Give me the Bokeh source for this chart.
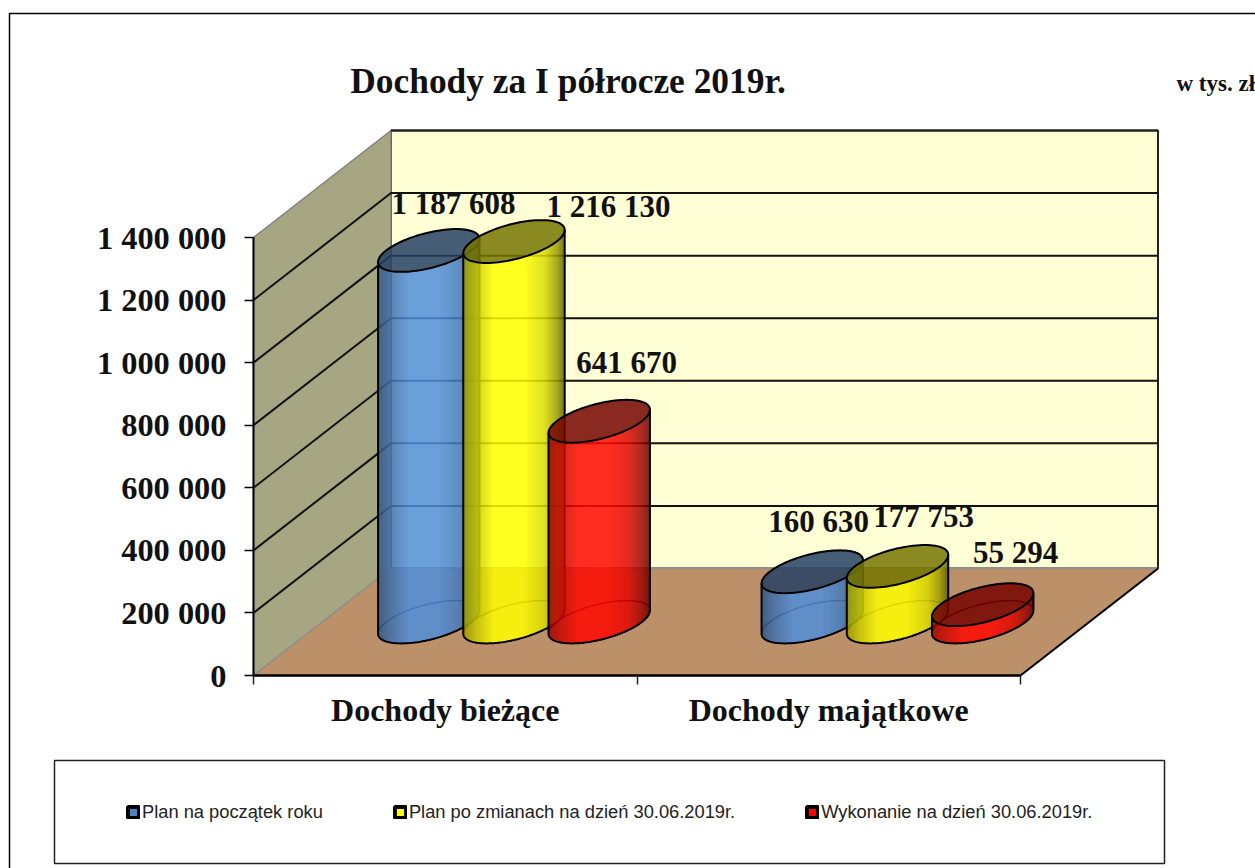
import math
from bokeh.plotting import figure
from bokeh.models import FixedTicker, Legend, LegendItem, Label, BoxAnnotation
from bokeh.embed import file_html
from bokeh.resources import INLINE
from bokeh.core.properties import value

# ---- data ----
CATEGORIES = ["Dochody bieżące", "Dochody majątkowe"]
SERIES = ["Plan na początek roku", "Plan po zmianach na dzień 30.06.2019r.", "Wykonanie na dzień 30.06.2019r."]
PLAN_START = [1187608, 160630]
PLAN_CHANGED = [1216130, 177753]
EXECUTED = [641670, 55294]
Y_TICKS = [0, 200000, 400000, 600000, 800000, 1000000, 1200000, 1400000]
TITLE = "Dochody za I półrocze 2019r."
UNIT = "w tys. zł"

# ---- layout (page pixels; bokeh's page template has margin 0) ----
W, H = 1255, 868
PAGE_X0, PAGE_Y0 = 253, 675      # chart origin
PX_PER_CAT = 383.5
PX_PER_VAL = 438.0 / 1400000
DEPTH_PX_X, DEPTH_PX_Y = 137.5, 107.0
def X(px): return (px - PAGE_X0) / PX_PER_CAT
def Y(py): return (PAGE_Y0 - py) / PX_PER_VAL
DX = DEPTH_PX_X / PX_PER_CAT
DY = DEPTH_PX_Y / PX_PER_VAL
VMAX = Y_TICKS[-1]
def pr(c, v, d): return c + d * DX, v + d * DY

p = figure(width=W, height=H, output_backend="svg", toolbar_location=None,
           x_range=(X(0), X(W)), y_range=(Y(H), Y(0)), min_border=0,
           tools="", outline_line_color=None, background_fill_color="white")
p.grid.visible = False

# outer chart-area border (open at right and bottom: page cuts it)
p.line([X(9), X(9), X(W)], [Y(H), Y(13), Y(13)], line_color="black", line_width=1.5)

# ---- walls ----
NC = len(CATEGORIES)
wx = [pr(0, 0, 1)[0], pr(NC, 0, 1)[0], pr(NC, VMAX, 1)[0], pr(0, VMAX, 1)[0]]
wy = [pr(0, 0, 1)[1], pr(NC, 0, 1)[1], pr(NC, VMAX, 1)[1], pr(0, VMAX, 1)[1]]
p.patch(wx, wy, fill_color="#FFFFD6", line_color="#202020", line_width=2)
p.patch([0, 0, DX, DX], [0, VMAX, VMAX + DY, DY], fill_color="#A6A682", line_color="#808080", line_width=1.5)
p.patch([0, NC, NC + DX, DX], [0, 0, DY, DY], fill_color="#BC9069", line_color="#8F8F8F", line_width=1.5)
p.line([NC, NC + DX], [0, DY], line_color="black", line_width=2)
for v in Y_TICKS[1:-1]:
    p.line([0, DX, NC + DX], [v, v + DY, v + DY], line_color="#111111", line_width=2)
p.line([DX, NC + DX], [VMAX + DY, VMAX + DY], line_color="#202020", line_width=2)

# ---- cylinders ----
COLORS = [(80, 142, 218), (255, 255, 0), (255, 8, 0)]
ALPHA = 0.85
TOP_SHADE = 0.46
BAR_W = 2.0 / 9.0
CENTERS = [0.5 - BAR_W, 0.5, 0.5 + BAR_W]
RD = 0.2
PROFILE = [(0.0, .60), (.12, .78), (.30, 1.0), (.60, 1.0), (.80, .86), (.92, .62), (1.0, .36)]

def shade(u):
    for (a, fa), (b, fb) in zip(PROFILE, PROFILE[1:]):
        if u <= b:
            return fa + (fb - fa) * (u - a) / (b - a)
    return PROFILE[-1][1]

def hexc(c, f):
    return "#%02x%02x%02x" % tuple(int(max(0, min(255, x * f))) for x in c)

RX = BAR_W / 2
AX = RD * DX
BV = RD * DY
R = math.hypot(RX, AX)
PHI = math.atan2(AX, RX)

def low_arc(dx):
    t = PHI - math.acos(max(-1, min(1, dx / R)))
    return BV * math.sin(t)

def ellipse(cx, cy, t0=0.0, t1=2 * math.pi, n=96):
    ts = [t0 + (t1 - t0) * i / n for i in range(n + 1)]
    return ([cx + RX * math.cos(t) + AX * math.sin(t) for t in ts],
            [cy + BV * math.sin(t) for t in ts])

def cylinder(cat_i, s_i, val):
    c = COLORS[s_i]
    cx, cy0 = pr(cat_i + CENTERS[s_i], 0, 0.5)
    cy1 = cy0 + val
    left_px = PAGE_X0 + (cx - R) * PX_PER_CAT
    right_px = PAGE_X0 + (cx + R) * PX_PER_CAT
    # strip edges sit on half pixels: the svg layer is drawn with a half-pixel shift
    inner = [k + 0.5 for k in range(math.ceil(left_px - 0.5), math.floor(right_px - 0.5) + 1)]
    edges = [left_px] + inner + [right_px]
    xs, ys, fills = [], [], []
    for a, b in zip(edges, edges[1:]):
        if b - a <= 1e-6:
            continue
        xa, xb = X(a) - cx, X(b) - cx
        xs.append([xa + cx, xb + cx, xb + cx, xa + cx])
        ys.append([cy0 + low_arc(xa), cy0 + low_arc(xb), cy1 + low_arc(xb), cy1 + low_arc(xa)])
        u = (((a + b) / 2) - left_px) / (right_px - left_px)
        fills.append(hexc(c, shade(u)))
    bx, by = ellipse(cx, cy0)
    p.line(bx, by, line_color="black", line_width=1.4)
    p.patches(xs, ys, fill_color=fills, fill_alpha=ALPHA, line_color=None)
    tx, ty = ellipse(cx, cy1)
    p.patch(tx, ty, fill_color=hexc(c, TOP_SHADE), fill_alpha=ALPHA, line_color="black", line_width=2)
    ax, ay = ellipse(cx, cy0, PHI - math.pi, PHI)
    p.line(ax, ay, line_color="black", line_width=2)
    sx, sy = R, BV * math.sin(PHI)
    p.line([cx - sx, cx - sx], [cy0 - sy, cy1 - sy], line_color="black", line_width=2)
    p.line([cx + sx, cx + sx], [cy0 + sy, cy1 + sy], line_color="black", line_width=2)

ALL = [PLAN_START, PLAN_CHANGED, EXECUTED]
for ci in range(NC):
    for si in range(3):
        cylinder(ci, si, ALL[si][ci])

# ---- value labels ----
LABEL_CENTERS_PX = [[(453, 203), (608, 206), (626, 362)], [(818, 521), (923, 516), (1015, 552)]]
tx, ty, tt = [], [], []
for ci in range(NC):
    for si in range(3):
        px, py = LABEL_CENTERS_PX[ci][si]
        tx.append(X(px)); ty.append(Y(py))
        tt.append(f"{ALL[si][ci]:,}".replace(",", " "))
p.text(tx, ty, text=tt, text_font=value("Liberation Serif"), text_font_style="bold",
       text_font_size="31px", text_align="center", text_baseline="middle", text_color="#111111")

# ---- axes ----
ya = p.yaxis[0]
ya.fixed_location = 0
ya.bounds = (0, VMAX)
ya.ticker = FixedTicker(ticks=Y_TICKS)
ya.major_label_overrides = {v: (f"{v:,}".replace(",", " ")) for v in Y_TICKS}
ya.major_tick_out = 9; ya.major_tick_in = 0; ya.minor_tick_out = 0; ya.minor_tick_in = 0
ya.axis_line_width = 2; ya.major_tick_line_width = 1.5
ya.major_label_standoff = 18
ya.major_label_text_font = "Liberation Serif"; ya.major_label_text_font_style = "bold"
ya.major_label_text_font_size = "32.4px"; ya.major_label_text_color = "#111111"

xa = p.xaxis[0]
xa.fixed_location = 0
xa.bounds = (0, NC)
centers = [i + 0.5 for i in range(NC)]
xa.ticker = FixedTicker(ticks=centers, minor_ticks=list(range(NC + 1)))
xa.major_label_overrides = {c: t for c, t in zip(centers, CATEGORIES)}
xa.major_tick_out = 0; xa.major_tick_in = 0; xa.minor_tick_out = 9; xa.minor_tick_in = 0
xa.axis_line_width = 2.5; xa.minor_tick_line_width = 1.5; xa.minor_tick_line_color = "#222222"
xa.major_label_standoff = 7
xa.major_label_text_font = "Liberation Serif"; xa.major_label_text_font_style = "bold"
xa.major_label_text_font_size = "32px"; xa.major_label_text_color = "#111111"

# ---- title ----
p.add_layout(Label(x=X(567.5), y=Y(80), text=TITLE, text_font="Liberation Serif", text_font_style="bold",
                   text_font_size="35.4px", text_align="center", text_baseline="middle", text_color="#111111"))
p.add_layout(Label(x=X(1176), y=Y(83), text=UNIT, text_font="Liberation Serif", text_font_style="bold",
                   text_font_size="23px", text_align="left", text_baseline="middle", text_color="#111111"))

# ---- legend ----
p.add_layout(BoxAnnotation(left=54, right=1164, top=H - 760, bottom=H - 863,
                           left_units="screen", right_units="screen", top_units="screen", bottom_units="screen",
                           fill_color="white", fill_alpha=1, line_color="#222222", line_width=1.5, line_alpha=1,
                           level="underlay"))
items = []
LEG = ["#4F81BD", "#FFFF00", "#FF0000"]
OFF = X(-200)
for name, col in zip(SERIES, LEG):
    r = p.quad(left=[OFF], right=[OFF], top=[0], bottom=[0], fill_color=col, line_color="black", line_width=4)
    items.append(LegendItem(label=name, renderers=[r]))
leg = Legend(items=items, orientation="horizontal", location=(126, H - 823),
             padding=0, margin=0, spacing=70, label_standoff=2, glyph_width=14, glyph_height=14,
             label_text_font="Liberation Sans", label_text_font_size="18.3px", label_text_color="#222222",
             border_line_color=None, background_fill_alpha=0)
p.add_layout(leg, "center")

open("out.html", "w").write(file_html(p, INLINE))
